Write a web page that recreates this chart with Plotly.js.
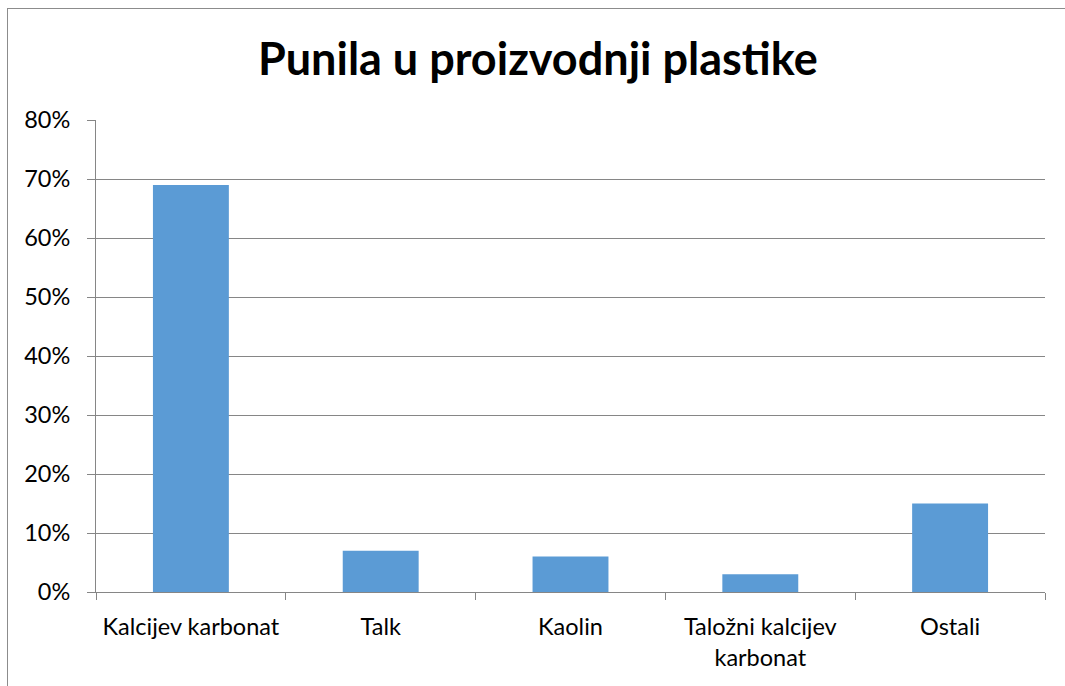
<!DOCTYPE html>
<html>
<head>
<meta charset="utf-8">
<script src="https://cdn.plot.ly/plotly-3.0.1.min.js"></script>
<style>
  html, body { margin: 0; padding: 0; background: #fff; overflow: hidden; }
  #chart { position: absolute; left: 0; top: 0; width: 1065px; height: 686px; }
  #frame { position: absolute; left: 7px; top: 8px; width: 1058px; height: 678px;
           border-left: 1px solid #8c8c8c; border-top: 1px solid #8c8c8c;
           box-sizing: border-box; pointer-events: none; }
</style>
</head>
<body>
<div id="chart"></div>
<div id="frame"></div>
<script>
const categories = ["Kalcijev karbonat", "Talk", "Kaolin", "Taložni kalcijev<br>karbonat", "Ostali"];
const shares = [0.69, 0.07, 0.06, 0.03, 0.15];
const yTicks = [0, 0.1, 0.2, 0.3, 0.4, 0.5, 0.6, 0.7, 0.8];
const chartTitle = "Punila u proizvodnji plastike";

const font = "Lato, Carlito, 'Open Sans', sans-serif";
const gray = "#868686";

Plotly.newPlot("chart", [{
  type: "bar",
  x: categories,
  y: shares,
  marker: { color: "#5B9BD5" },
  hoverinfo: "y"
}], {
  width: 1065,
  height: 686,
  margin: { l: 96, r: 20, t: 120, b: 94 },
  paper_bgcolor: "#fff",
  plot_bgcolor: "#fff",
  bargap: 0.6,
  showlegend: false,
  font: { family: font, size: 23.5, color: "#000" },
  title: {
    text: "<b>" + chartTitle + "</b>",
    font: { family: font, size: 45, color: "#000" },
    x: 0.505, xanchor: "center",
    y: 0.913, yanchor: "middle", yref: "container"
  },
  xaxis: {
    type: "category",
    showline: true, linecolor: gray, linewidth: 1,
    ticks: "outside", tickson: "boundaries", ticklen: 7, tickcolor: gray,
    showgrid: false,
    tickfont: { family: font, size: 23.5, color: "#000" },
    ticklabelstandoff: 14
  },
  yaxis: {
    range: [0, 0.8],
    tickvals: yTicks,
    tickformat: ".0%",
    showline: true, linecolor: gray, linewidth: 1,
    ticks: "outside", ticklen: 8, tickcolor: gray,
    showgrid: true, gridcolor: gray, gridwidth: 1,
    zeroline: false,
    tickfont: { family: font, size: 23.5, color: "#000" },
    ticklabelstandoff: 12
  }
}, { displayModeBar: false, staticPlot: true });
</script>
</body>
</html>
